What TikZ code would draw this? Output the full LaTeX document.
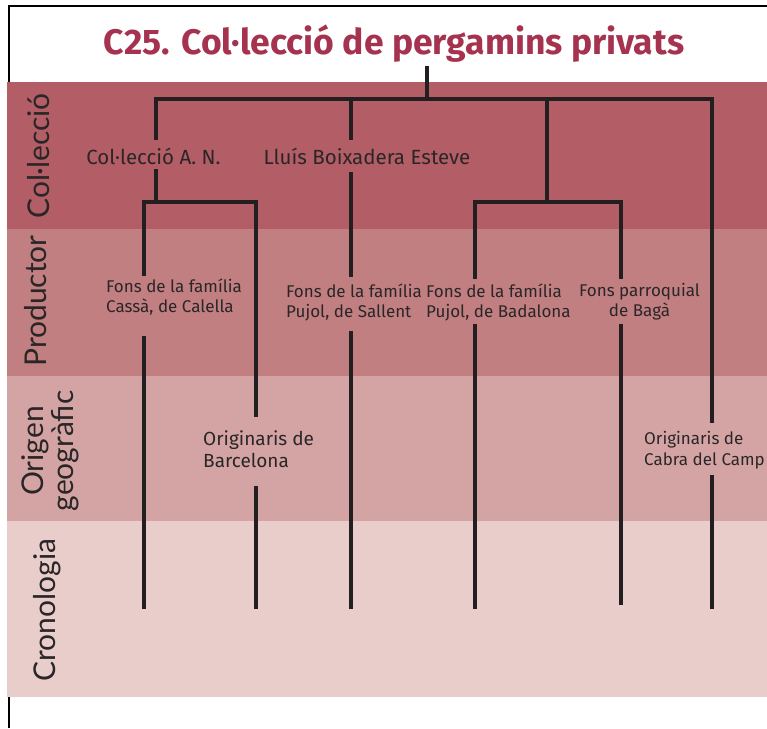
\documentclass[tikz,border=0pt]{standalone}
\usepackage{fontspec}
\setmainfont{Fira Sans}
\newfontfamily\sidefont{Lato}
\definecolor{bandA}{HTML}{B35D66}
\definecolor{bandB}{HTML}{C17F82}
\definecolor{bandC}{HTML}{D4A4A4}
\definecolor{bandD}{HTML}{E8CDCA}
\definecolor{titlec}{HTML}{A5324F}
\definecolor{linec}{HTML}{231F20}
\definecolor{textc}{HTML}{2A2627}
\begin{document}
\begin{tikzpicture}[x=1pt,y=-1pt,
  conn/.style={line width=3.2pt, draw=linec},
  levone/.style={font=\fontsize{20.5}{24}\selectfont, text=textc, inner sep=0pt},
  levtwo/.style={font=\fontsize{17}{20}\selectfont, text=textc, inner sep=0pt, align=left},
  levorig/.style={font=\fontsize{19}{22}\selectfont, text=textc, inner sep=0pt, align=left},
  sidelab/.style={font=\sidefont\fontsize{30}{30}\selectfont, text=textc, inner sep=0pt, rotate=90, align=center}]
\useasboundingbox (0,0) rectangle (767,728);
% frame
\draw[line width=1.5pt, black] (9,728) -- (9,6) -- (767,6);
% bands
\fill[bandA] (7,82) rectangle (767,229);
\fill[bandB] (7,229) rectangle (767,376);
\fill[bandC] (7,376) rectangle (767,521);
\fill[bandD] (7,521) rectangle (767,697);
% title
\node[font=\fontsize{35.5}{38}\selectfont\bfseries, text=titlec, inner sep=0pt, anchor=base] (title) at (394,54) {C25. Col·lecció de pergamins privats};
% side labels
\node[sidelab, anchor=base] (sA) at (49,156) {Col·lecció};
\node[sidelab, anchor=base] (sB) at (46,301) {Productor};
\node[sidelab] (sC) at (50,451) {Origen\\geogràfic};
\node[sidelab, anchor=base] (sD) at (55,610) {Cronologia};
% labels
\node[levone, anchor=base] (colan) at (153.5,164) {Col·lecció A. N.};
\node[levone, anchor=base] (lluis) at (367,164) {Lluís Boixadera Esteve};
\node[levtwo, anchor=west] (cassa) at (106,297) {Fons de la família\\Cassà, de Calella};
\node[levtwo, anchor=west] (sallent) at (286,302) {Fons de la família\\Pujol, de Sallent};
\node[levtwo, anchor=west] (badalona) at (426,302) {Fons de la família\\Pujol, de Badalona};
\node[levtwo, align=center] (baga) at (639.5,302) {Fons parroquial\\de Bagà};
\node[levorig, anchor=west] (barna) at (203,449) {Originaris de\\Barcelona};
\node[levorig, font=\fontsize{17}{21.5}\selectfont, anchor=west] (cabra) at (644,450) {Originaris de\\Cabra del Camp};
% junction coordinates
\coordinate (rtop) at (427,66);
\coordinate (rbar) at (427,99);
\coordinate (bL) at (156,99);
\coordinate (bS) at (351,99);
\coordinate (bB) at (547,99);
\coordinate (bR) at (712,99);
\coordinate (anTop) at (156,140);
\coordinate (anBot) at (156,169);
\coordinate (anJ) at (156,202);
\coordinate (cL) at (144,202);
\coordinate (cR) at (256,202);
\coordinate (caTop) at (144,276);
\coordinate (caBot) at (144,336);
\coordinate (bcTop) at (256,417);
\coordinate (bcBot) at (256,486);
\coordinate (luTop) at (351,140);
\coordinate (luBot) at (351,172);
\coordinate (saTop) at (351,277);
\coordinate (saBot) at (351,331);
\coordinate (pJ) at (547,202);
\coordinate (pL) at (475,202);
\coordinate (pR) at (621,202);
\coordinate (bdTop) at (475,279);
\coordinate (bdBot) at (475,324);
\coordinate (bgTop) at (621,279);
\coordinate (bgBot) at (621,324);
\coordinate (cbTop) at (712,423);
\coordinate (cbBot) at (712,475);
\coordinate (eCa) at (144,609);
\coordinate (eBc) at (256,609);
\coordinate (eSa) at (351,609);
\coordinate (eBd) at (475,609);
\coordinate (eBg) at (621,605);
\coordinate (eCb) at (712,609);
% connectors
\draw[conn] (rtop) -- (rbar);
\draw[conn] (anTop) -- (bL) -- (bR) -- (cbTop);
\draw[conn] (bS) -- (luTop);
\draw[conn] (bB) -- (pJ);
\draw[conn] (anBot) -- (anJ);
\draw[conn] (caTop) -- (cL) -- (cR) -- (bcTop);
\draw[conn] (luBot) -- (saTop);
\draw[conn] (bdTop) -- (pL) -- (pR) -- (bgTop);
\draw[conn] (caBot) -- (eCa);
\draw[conn] (bcBot) -- (eBc);
\draw[conn] (saBot) -- (eSa);
\draw[conn] (bdBot) -- (eBd);
\draw[conn] (bgBot) -- (eBg);
\draw[conn] (cbBot) -- (eCb);
\end{tikzpicture}
\end{document}
